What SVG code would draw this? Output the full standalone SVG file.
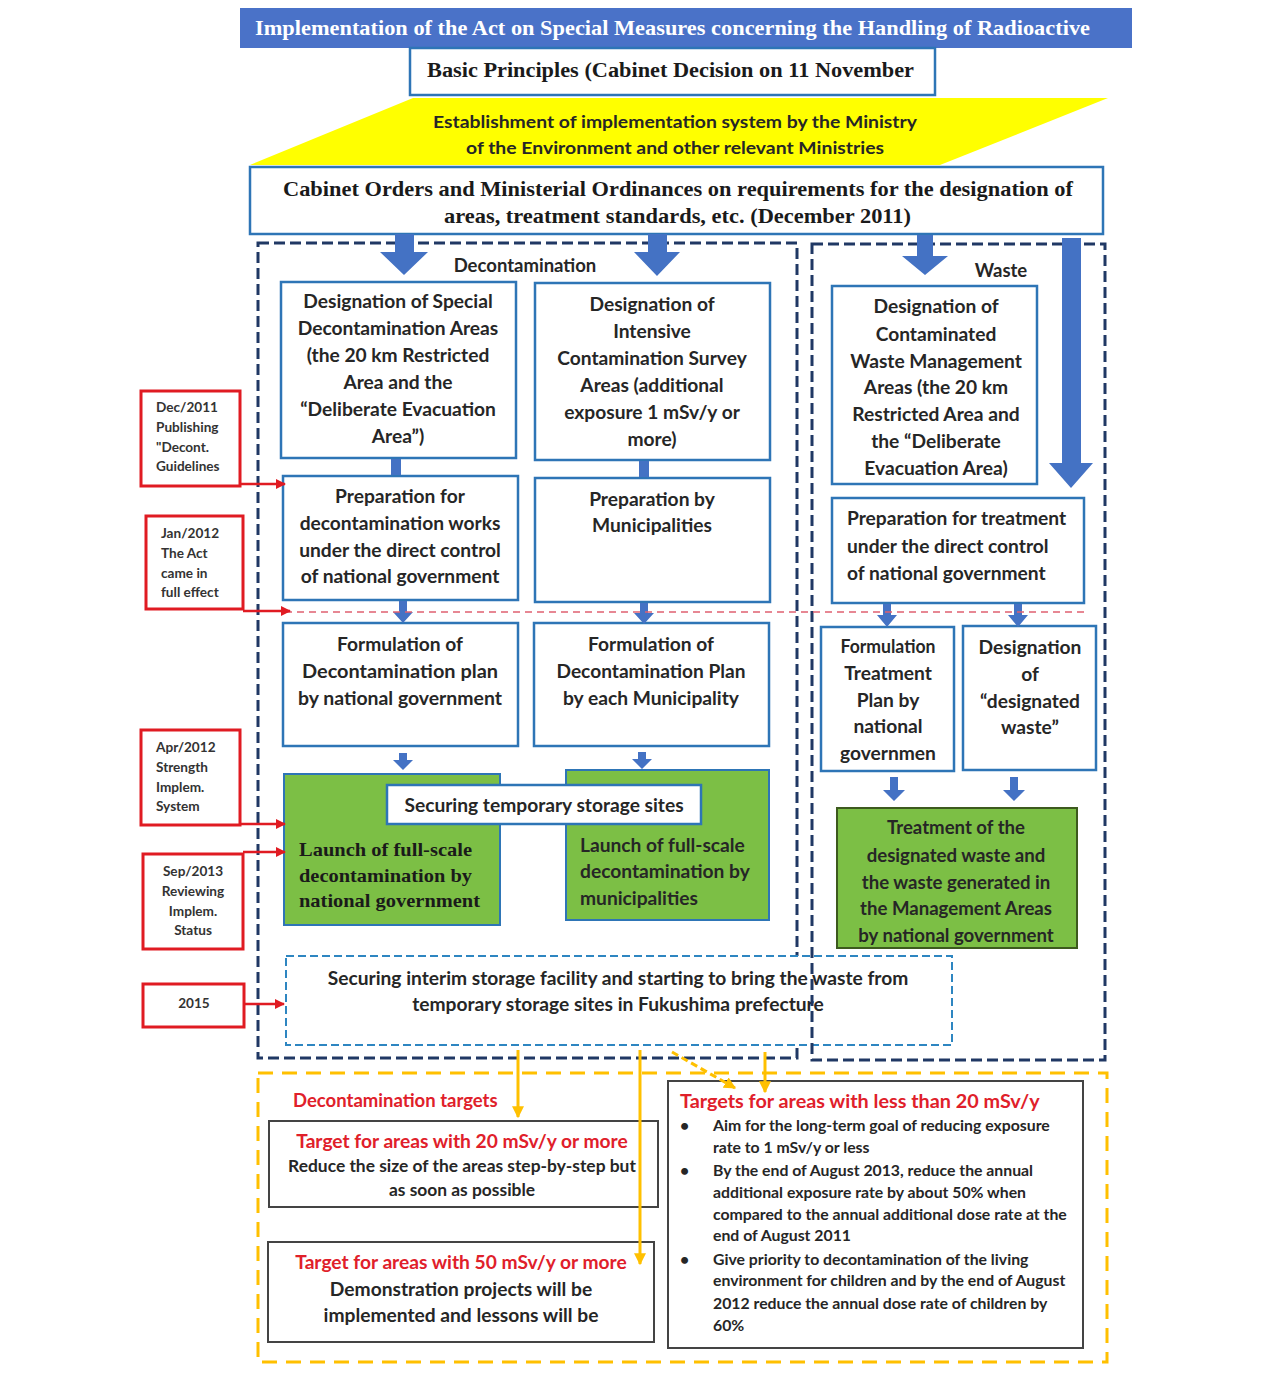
<svg xmlns="http://www.w3.org/2000/svg" width="1280" height="1387" viewBox="0 0 1280 1387">
<defs>
<style>
.bx{fill:#fff;stroke:#2e75b6;stroke-width:2.5}
.grn{fill:#7cbf45;stroke:#2e75b6;stroke-width:2}
.navy{fill:none;stroke:#203864;stroke-width:3;stroke-dasharray:11 5}
.red{fill:#fff;stroke:#e01b22;stroke-width:3}
.blk{fill:#fff;stroke:#444;stroke-width:2}
.ar{fill:#4472c4}
.t{font-family:Lato,"Open Sans","Noto Sans",sans-serif;font-weight:bold;font-size:19.2px;fill:#262626;text-anchor:middle}
.tl{text-anchor:start}
.sf{font-family:"Liberation Serif","Times New Roman",serif;font-weight:bold;fill:#1a1a1a}
.rt{font-family:Lato,"Open Sans",sans-serif;font-weight:bold;font-size:13.6px;fill:#333}
.rd{fill:#e0202a}
.sm{font-size:15.8px}
.rl{stroke:#e01b22;stroke-width:2.5;fill:none}
.yl{stroke:#ffc000;stroke-width:3;fill:none}
</style>
<marker id="rh" viewBox="0 0 10 10" refX="9" refY="5" markerWidth="4" markerHeight="4" orient="auto"><path d="M0,0 L10,5 L0,10 z" fill="#e01b22"/></marker>
<marker id="yh" viewBox="0 0 10 10" refX="9" refY="5" markerWidth="4" markerHeight="4" orient="auto"><path d="M0,0 L10,5 L0,10 z" fill="#ffc000"/></marker>
</defs>
<rect width="1280" height="1387" fill="#fff"/>

<g id="title">
<rect x="240" y="8" width="892" height="40" fill="#4a72c8"/>
<text x="255" y="35" class="sf" font-size="21" style="fill:#fff" textLength="835" lengthAdjust="spacingAndGlyphs">Implementation of the Act on Special Measures concerning the Handling of Radioactive</text>
</g>

<g id="basic">
<rect x="410" y="48" width="525" height="47" class="bx"/>
<text x="427" y="77" class="sf" font-size="20" textLength="487" lengthAdjust="spacingAndGlyphs">Basic Principles (Cabinet Decision on 11 November</text>
</g>

<g id="establish">
<polygon points="413,98 1108,98 940,165 250,165" fill="#ffff00"/>
<text x="433" y="128" class="t tl" style="font-size:17px" textLength="484" lengthAdjust="spacingAndGlyphs">Establishment of implementation system by the Ministry</text>
<text x="466" y="154" class="t tl" style="font-size:17px" textLength="418" lengthAdjust="spacingAndGlyphs">of the Environment and other relevant Ministries</text>
</g>

<g id="cabinet">
<rect x="250" y="167" width="853" height="67" class="bx"/>
<text x="283" y="196" class="sf" font-size="21" textLength="790" lengthAdjust="spacingAndGlyphs">Cabinet Orders and Ministerial Ordinances on requirements for the designation of</text>
<text x="444" y="223" class="sf" font-size="21" textLength="467" lengthAdjust="spacingAndGlyphs">areas, treatment standards, etc. (December 2011)</text>
</g>

<g id="regions">
<path d="M258,243 H797 V1058 H258 Z" class="navy"/>
<text x="525" y="272" class="t" style="font-size:18.5px">Decontamination</text>
<text x="1001" y="277" class="t" style="font-size:18.5px">Waste</text>
</g>

<g id="outer-targets">
<rect x="258" y="1073" width="849" height="289" fill="none" stroke="#ffc000" stroke-width="3" stroke-dasharray="15 9"/>
</g>

<g id="dec-special">
<rect x="281" y="282" width="235" height="176" class="bx"/>
<text class="t" x="398" y="308">Designation of Special</text>
<text class="t" x="398" y="335">Decontamination Areas</text>
<text class="t" x="398" y="362">(the 20 km Restricted</text>
<text class="t" x="398" y="389">Area and the</text>
<text class="t" x="398" y="416">“Deliberate Evacuation</text>
<text class="t" x="398" y="443">Area”)</text>
</g>

<g id="dec-intensive">
<rect x="535" y="283" width="235" height="177" class="bx"/>
<text class="t" x="652" y="311">Designation of</text>
<text class="t" x="652" y="338">Intensive</text>
<text class="t" x="652" y="365">Contamination Survey</text>
<text class="t" x="652" y="392">Areas (additional</text>
<text class="t" x="652" y="419">exposure 1 mSv/y or</text>
<text class="t" x="652" y="446">more)</text>
</g>

<g id="prep-national">
<rect x="283" y="476" width="235" height="124" class="bx"/>
<text class="t" x="400" y="503">Preparation for</text>
<text class="t" x="400" y="530">decontamination works</text>
<text class="t" x="400" y="557">under the direct control</text>
<text class="t" x="400" y="583">of national government</text>
</g>

<g id="prep-muni">
<rect x="535" y="478" width="235" height="124" class="bx"/>
<text class="t" x="652" y="506">Preparation by</text>
<text class="t" x="652" y="532">Municipalities</text>
</g>

<g id="form-national">
<rect x="283" y="623" width="235" height="123" class="bx"/>
<text class="t" x="400" y="651">Formulation of</text>
<text class="t" x="400" y="678" textLength="196" lengthAdjust="spacingAndGlyphs">Decontamination plan</text>
<text class="t" x="400" y="705" textLength="204" lengthAdjust="spacingAndGlyphs">by national government</text>
</g>

<g id="form-muni">
<rect x="534" y="623" width="235" height="123" class="bx"/>
<text class="t" x="651" y="651">Formulation of</text>
<text class="t" x="651" y="678" textLength="189" lengthAdjust="spacingAndGlyphs">Decontamination Plan</text>
<text class="t" x="651" y="705" textLength="176" lengthAdjust="spacingAndGlyphs">by each Municipality</text>
</g>

<g id="launch-national">
<rect x="284" y="774" width="216" height="151" class="grn"/>
<text class="sf" x="299" y="856" font-size="19" textLength="173" lengthAdjust="spacingAndGlyphs">Launch of full-scale</text>
<text class="sf" x="299" y="882" font-size="19" textLength="173" lengthAdjust="spacingAndGlyphs">decontamination by</text>
<text class="sf" x="299" y="907" font-size="19" textLength="181" lengthAdjust="spacingAndGlyphs">national government</text>
</g>

<g id="launch-muni">
<rect x="566" y="770" width="203" height="150" class="grn"/>
<text class="t tl" x="580" y="852">Launch of full-scale</text>
<text class="t tl" x="580" y="878">decontamination by</text>
<text class="t tl" x="580" y="905">municipalities</text>
</g>

<g id="temp-storage">
<rect x="387" y="785" width="314" height="39" class="bx"/>
<text class="t" x="544" y="812">Securing temporary storage sites</text>
</g>

<g id="waste-designation">
<rect x="832" y="286" width="205" height="198" class="bx"/>
<text class="t" x="936" y="313">Designation of</text>
<text class="t" x="936" y="341">Contaminated</text>
<text class="t" x="936" y="368">Waste Management</text>
<text class="t" x="936" y="394">Areas (the 20 km</text>
<text class="t" x="936" y="421">Restricted Area and</text>
<text class="t" x="936" y="448">the “Deliberate</text>
<text class="t" x="936" y="475">Evacuation Area)</text>
</g>

<g id="waste-prep">
<rect x="832" y="498" width="252" height="105" class="bx"/>
<text class="t tl" x="847" y="525">Preparation for treatment</text>
<text class="t tl" x="847" y="553">under the direct control</text>
<text class="t tl" x="847" y="580">of national government</text>
</g>

<g id="waste-plan">
<rect x="821" y="627" width="133" height="144" class="bx"/>
<text class="t" x="888" y="653" textLength="95" lengthAdjust="spacingAndGlyphs">Formulation</text>
<text class="t" x="888" y="680">Treatment</text>
<text class="t" x="888" y="707">Plan by</text>
<text class="t" x="888" y="733">national</text>
<text class="t" x="888" y="760">governmen</text>
</g>

<g id="waste-desig2">
<rect x="963" y="626" width="133" height="144" class="bx"/>
<text class="t" x="1030" y="654">Designation</text>
<text class="t" x="1030" y="681">of</text>
<text class="t" x="1030" y="708">“designated</text>
<text class="t" x="1030" y="734">waste”</text>
</g>

<g id="waste-treatment">
<rect x="837" y="808" width="240" height="140" fill="#7cbf45" stroke="#3d5a1e" stroke-width="2"/>
<text class="t" x="956" y="834" style="font-size:18.6px">Treatment of the</text>
<text class="t" x="956" y="862" style="font-size:18.6px">designated waste and</text>
<text class="t" x="956" y="889" style="font-size:18.6px">the waste generated in</text>
<text class="t" x="956" y="915" style="font-size:18.6px">the Management Areas</text>
<text class="t" x="956" y="942" style="font-size:18.6px">by national government</text>
</g>

<g id="interim">
<rect x="286" y="956" width="666" height="89" fill="#fff" stroke="#2e86c1" stroke-width="2" stroke-dasharray="8 4"/>
<text class="t" x="618" y="985">Securing interim storage facility and starting to bring the waste from</text>
<text class="t" x="618" y="1011">temporary storage sites in Fukushima prefecture</text>
</g>

<g id="waste-region">
<rect x="812" y="244" width="293" height="816" class="navy"/>
</g>

<g id="milestones">
<rect x="141" y="391" width="99" height="95" class="red"/>
<text class="rt" x="156" y="412">Dec/2011</text>
<text class="rt" x="156" y="432">Publishing</text>
<text class="rt" x="156" y="452">"Decont.</text>
<text class="rt" x="156" y="471">Guidelines</text>
<rect x="146" y="516" width="97" height="93" class="red"/>
<text class="rt" x="161" y="538">Jan/2012</text>
<text class="rt" x="161" y="558">The Act</text>
<text class="rt" x="161" y="578">came in</text>
<text class="rt" x="161" y="597">full effect</text>
<rect x="141" y="730" width="99" height="95" class="red"/>
<text class="rt" x="156" y="752">Apr/2012</text>
<text class="rt" x="156" y="772">Strength</text>
<text class="rt" x="156" y="792">Implem.</text>
<text class="rt" x="156" y="811">System</text>
<rect x="143" y="854" width="100" height="95" class="red"/>
<text class="rt" x="193" y="876" text-anchor="middle">Sep/2013</text>
<text class="rt" x="193" y="896" text-anchor="middle">Reviewing</text>
<text class="rt" x="193" y="916" text-anchor="middle">Implem.</text>
<text class="rt" x="193" y="935" text-anchor="middle">Status</text>
<rect x="143" y="984" width="101" height="43" class="red"/>
<text class="rt" x="194" y="1008" text-anchor="middle">2015</text>
</g>

<g id="targets-label">
<text class="t tl rd" x="293" y="1107" style="font-size:18.5px">Decontamination targets</text>
</g>

<g id="target20">
<rect x="269" y="1121" width="389" height="86" class="blk"/>
<text class="t rd" x="462" y="1148">Target for areas with 20 mSv/y or more</text>
<text class="t" x="462" y="1172" style="font-size:17.4px">Reduce the size of the areas step-by-step but</text>
<text class="t" x="462" y="1196" style="font-size:17.4px">as soon as possible</text>
</g>

<g id="target50">
<rect x="268" y="1242" width="386" height="100" class="blk"/>
<text class="t rd" x="461" y="1269">Target for areas with 50 mSv/y or more</text>
<text class="t" x="461" y="1296">Demonstration projects will be</text>
<text class="t" x="461" y="1322">implemented and lessons will be</text>
</g>

<g id="target-less20">
<rect x="668" y="1081" width="415" height="267" class="blk"/>
<text class="t tl rd" x="680" y="1108" style="font-size:19.8px">Targets for areas with less than 20 mSv/y</text>
<text class="t tl sm" x="680" y="1131">•</text>
<text class="t tl sm" x="713" y="1131">Aim for the long-term goal of reducing exposure</text>
<text class="t tl sm" x="713" y="1153">rate to 1 mSv/y or less</text>
<text class="t tl sm" x="680" y="1176">•</text>
<text class="t tl sm" x="713" y="1176">By the end of August 2013, reduce the annual</text>
<text class="t tl sm" x="713" y="1198">additional exposure rate by about 50% when</text>
<text class="t tl sm" x="713" y="1220">compared to the annual additional dose rate at the</text>
<text class="t tl sm" x="713" y="1241">end of August 2011</text>
<text class="t tl sm" x="680" y="1265">•</text>
<text class="t tl sm" x="713" y="1265">Give priority to decontamination of the living</text>
<text class="t tl sm" x="713" y="1286">environment for children and by the end of August</text>
<text class="t tl sm" x="713" y="1309">2012 reduce the annual dose rate of children by</text>
<text class="t tl sm" x="713" y="1331">60%</text>
</g>

<g id="connectors">
<path class="ar" d="M395,234 H414 V252 H428 L404,275 L380,252 H395 Z"/>
<path class="ar" d="M648,234 H667 V252 H680 L657,276 L634,252 H648 Z"/>
<path class="ar" d="M917,235 H933 V256 H948 L925,275 L902,256 H917 Z"/>
<path class="ar" d="M1062,238 H1081 V463 H1093 L1071,488 L1049,463 H1062 Z"/>
<rect class="ar" x="391" y="459" width="10" height="16"/>
<rect class="ar" x="639" y="461" width="10" height="16"/>
<path class="ar" d="M399,601 H407 V612 H413 L403,623 L393,612 H399 Z"/>
<path class="ar" d="M640,603 H648 V613 H654 L644,624 L634,613 H640 Z"/>
<path class="ar" d="M883,604 H891 V615 H897 L887,627 L877,615 H883 Z"/>
<path class="ar" d="M1014,604 H1022 V615 H1028 L1018,627 L1008,615 H1014 Z"/>
<path class="ar" d="M399,753 H407 V760 H413 L403,770 L393,760 H399 Z"/>
<path class="ar" d="M638,752 H646 V759 H652 L642,769 L632,759 H638 Z"/>
<path class="ar" d="M890,777 H898 V790 H905 L894,801 L883,790 H890 Z"/>
<path class="ar" d="M1010,777 H1018 V790 H1025 L1014,801 L1003,790 H1010 Z"/>
<line x1="285" y1="612" x2="1085" y2="612" stroke="#e06070" stroke-width="1.5" stroke-dasharray="7 5"/>
<line x1="240" y1="484" x2="285" y2="484" class="rl" marker-end="url(#rh)"/>
<line x1="243" y1="611" x2="290" y2="611" class="rl" marker-end="url(#rh)"/>
<line x1="240" y1="824" x2="285" y2="824" class="rl" marker-end="url(#rh)"/>
<line x1="243" y1="852" x2="285" y2="852" class="rl" marker-end="url(#rh)"/>
<line x1="244" y1="1004" x2="284" y2="1004" class="rl" marker-end="url(#rh)"/>
<line x1="518" y1="1050" x2="518" y2="1117" class="yl" marker-end="url(#yh)"/>
<line x1="640" y1="1050" x2="640" y2="1264" class="yl" marker-end="url(#yh)"/>
<line x1="765" y1="1052" x2="765" y2="1092" class="yl" marker-end="url(#yh)"/>
<line x1="672" y1="1052" x2="735" y2="1088" class="yl" stroke-dasharray="7 4" marker-end="url(#yh)"/>
</g>
</svg>
